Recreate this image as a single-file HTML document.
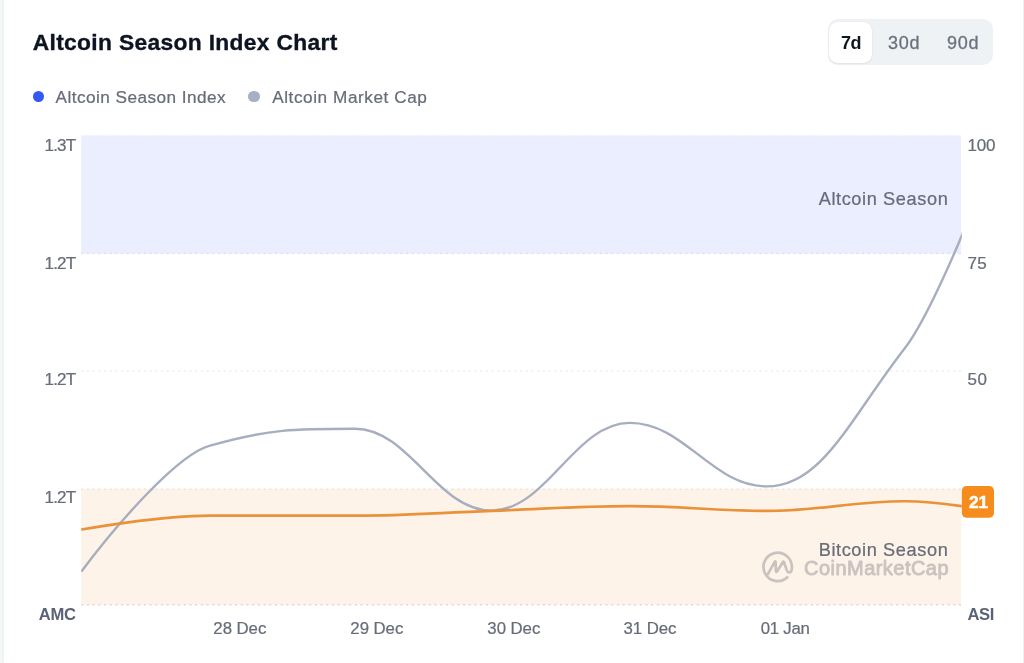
<!DOCTYPE html>
<html lang="en">
<head>
<meta charset="utf-8">
<title>Altcoin Season Index Chart</title>
<style>
  html, body { margin: 0; padding: 0; background: #ffffff; }
  body { width: 1024px; height: 663px; overflow: hidden; position: relative;
         font-family: "Liberation Sans", sans-serif; color: #666c78; }
  .edge-l { position: absolute; left: 0; top: 0; width: 5px; height: 663px; background: linear-gradient(to right, #f5f9f8 0, #f4f8f7 1.7px, #eef2f1 2.4px, #eef2f1 3.3px, #ffffff 4.3px); }
  .edge-r { position: absolute; left: 1022px; top: 0; width: 2px; height: 663px; background: linear-gradient(to right, #ffffff 0.5px, #f3f3f3 1px, #f0f0f0 1.3px); }
  .t { position: absolute; white-space: nowrap; line-height: 20px; height: 20px; }
  h1.title { margin: 0; left: 32.7px; top: 30px; line-height: 24px; height: 24px; font-size: 22.8px; font-weight: 700; color: #0d1421; letter-spacing: 0.33px; -webkit-text-stroke: 0.35px #0d1421; }
  .toggle { position: absolute; left: 827.5px; top: 19.3px; width: 165.8px; height: 45.5px; border-radius: 10px; background: #eff2f5; }
  .toggle .on { position: absolute; left: 1.5px; top: 2.5px; width: 43px; height: 40.8px; border-radius: 8.5px; background: #fff; box-shadow: 0 1px 2px rgba(128,138,157,.12), 0 0 1px rgba(128,138,157,.2); }
  .toggle span { position: absolute; top: 13.7px; font-size: 18px; line-height: 20px; color: #6a707d; letter-spacing: 0.75px; -webkit-text-stroke: 0.3px #6a707d; }
  .toggle span.a { color: #10161f; font-weight: 700; -webkit-text-stroke: 0; letter-spacing: -0.45px; }
  .dot { position: absolute; width: 11.6px; height: 11.6px; border-radius: 50%; }
  .leg { font-size: 17.2px; top: 86.6px; letter-spacing: 0.45px; -webkit-text-stroke: 0.22px #666c78; }
  .ax { font-size: 17px; -webkit-text-stroke: 0.22px #666c78; }
  .axl { text-align: right; width: 60px; left: 15.2px; letter-spacing: -0.85px; }
  .axr { left: 967.4px; letter-spacing: -0.2px; }
  .axb { font-weight: 700; font-size: 16.6px; color: #5a6275; letter-spacing: -0.3px; -webkit-text-stroke: 0; }
  .xl { -webkit-text-stroke: 0.22px #666c78; font-size: 16.8px; width: 100px; text-align: center; top: 618.7px; letter-spacing: -0.05px; }
  .zone { -webkit-text-stroke: 0.22px #666c78; font-size: 18.2px; text-align: right; width: 200px; left: 748.4px; letter-spacing: 0.6px; }
  svg { position: absolute; left: 0; top: 0; }
</style>
</head>
<body>
<div class="edge-l"></div><div class="edge-r"></div>

<h1 class="t title">Altcoin Season Index Chart</h1>

<div class="toggle">
  <div class="on"></div>
  <span class="a" style="left:13.5px">7d</span>
  <span style="left:60.5px">30d</span>
  <span style="left:119.5px">90d</span>
</div>

<div class="dot" style="left:32.5px;top:90.8px;background:#3358f4"></div>
<div class="t leg" style="left:55.6px">Altcoin Season Index</div>
<div class="dot" style="left:248.3px;top:90.8px;background:#a6b0c3"></div>
<div class="t leg" style="left:272.2px;letter-spacing:0.56px">Altcoin Market Cap</div>

<svg width="1024" height="663" viewBox="0 0 1024 663">
  <defs><clipPath id="plot"><rect x="81.2" y="130" width="880.6" height="480"/></clipPath></defs>
  <rect x="81.2" y="135.3" width="879.9" height="118.4" fill="#eaeefe"/>
  <rect x="81.2" y="488.7" width="879.9" height="116.4" fill="#fef3e9"/>
  <g stroke-width="1.6" stroke-dasharray="2 3.7" fill="none">
    <line x1="81.2" y1="135.4" x2="961.1" y2="135.4" stroke="#f7f8fe"/>
    <line x1="81.2" y1="253.4" x2="961.1" y2="253.4" stroke="#dfe3f1"/>
    <line x1="81.2" y1="371" x2="961.1" y2="371" stroke="#eceef2" stroke-width="1.4"/>
    <line x1="81.2" y1="489.3" x2="961.1" y2="489.3" stroke="#e9e4e1"/>
    <line x1="81.2" y1="604.7" x2="961.1" y2="604.7" stroke="#ddd8d6"/>
  </g>
  <!-- watermark -->
  <path d="M787.4 577.3 A14.2 14.2 0 1 1 791.9 567.4 C791.9 570.6 790.6 572.4 789.2 572.4 C787.8 572.4 787.1 571.2 786.5 569.6 L784 562.3 C783.7 561.4 783.2 561.4 782.8 562.2 L777 571.5 C776.5 572.3 776 572.1 775.9 571.2 L775.6 562 C775.6 561.1 775.1 561 774.7 561.8 L767.6 574.6" fill="none" stroke="#c9c2bf" stroke-width="2.7" stroke-linecap="round" stroke-linejoin="round"/>
  <text x="804.1" y="574.6" font-family="'Liberation Sans', sans-serif" font-weight="400" font-size="20" fill="#cac3c0" stroke="#cac3c0" stroke-width="0.85" stroke-linejoin="round" textLength="144.4" lengthAdjust="spacing">CoinMarketCap</text>
  <g clip-path="url(#plot)" fill="none" stroke-linejoin="round">
    <path d="M81.22 571.76 L81.60 571.30 C117.20 523.40 178.70 453.70 210.00 445.70 C268.00 428.80 297.00 428.80 355.00 428.80 C409.56 428.80 436.84 510.60 491.40 510.60 C546.80 510.60 574.50 422.90 629.90 422.90 C684.66 422.90 712.04 486.40 766.80 486.40 C822.08 486.40 849.72 419.04 905.00 348.00 C927.60 318.96 961.50 236.20 961.50 236.20 L963.02 232.50" stroke="#a6aec0" stroke-width="2.4"/>
    <path d="M81.01 529.64 L81.60 529.53 C81.60 529.53 158.64 515.55 210.00 515.55 C268.00 515.55 297.00 515.55 355.00 515.55 C409.56 515.55 436.84 512.72 491.40 510.86 C546.80 508.97 574.50 506.17 629.90 506.17 C684.66 506.17 712.04 510.86 766.80 510.86 C822.08 510.86 849.72 501.24 905.00 501.24 C927.60 501.24 961.50 506.17 961.50 506.17 L965.46 506.74" stroke="#e9923a" stroke-width="2.7"/>
  </g>
  <rect x="961.8" y="486.1" width="32.2" height="31.6" rx="4.6" fill="#f68c1c"/>
  <text x="978.6" y="508.4" text-anchor="middle" font-family="'Liberation Sans', sans-serif" font-weight="700" font-size="17.4" fill="#ffffff" stroke="#ffffff" stroke-width="0.5">21</text>
</svg>

<div class="t zone" style="top:188.6px">Altcoin Season</div>
<div class="t zone" style="top:539.5px">Bitcoin Season</div>

<div class="t ax axl" style="top:136px">1.3T</div>
<div class="t ax axl" style="top:254px">1.2T</div>
<div class="t ax axl" style="top:370px">1.2T</div>
<div class="t ax axl" style="top:488px">1.2T</div>
<div class="t ax axl axb" style="top:605px;left:15.6px">AMC</div>

<div class="t ax axr" style="top:136px">100</div>
<div class="t ax axr" style="top:254px;letter-spacing:0.5px">75</div>
<div class="t ax axr" style="top:370px;letter-spacing:0.6px">50</div>
<div class="t ax axr axb" style="top:605px">ASI</div>

<div class="t xl" style="left:189.8px">28 Dec</div>
<div class="t xl" style="left:326.8px">29 Dec</div>
<div class="t xl" style="left:463.8px">30 Dec</div>
<div class="t xl" style="left:600px">31 Dec</div>
<div class="t xl" style="left:735.2px;letter-spacing:-0.25px">01 Jan</div>
</body>
</html>
